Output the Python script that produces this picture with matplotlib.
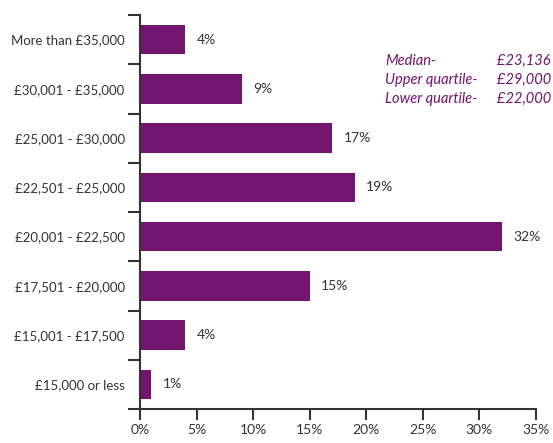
import matplotlib.pyplot as plt
from matplotlib.ticker import FixedLocator

# Salary bands (bottom to top) and share of respondents in each
bands = ['£15,000 or less', '£15,001 - £17,500', '£17,501 - £20,000',
         '£20,001 - £22,500', '£22,501 - £25,000', '£25,001 - £30,000',
         '£30,001 - £35,000', 'More than £35,000']
shares = [1, 4, 15, 32, 19, 17, 9, 4]
x_ticks = [0, 5, 10, 15, 20, 25, 30, 35]
stats_names = ['Median-', 'Upper quartile-', 'Lower quartile-']
stats_values = ['£23,136', '£29,000', '£22,000']

purple = '#73146F'
grey = '#333333'
plt.rcParams['font.family'] = ['Lato', 'DejaVu Sans']

fig = plt.figure(figsize=(5.53, 4.43), dpi=100)
ax = fig.add_axes([140 / 553, 1 - 409 / 443, 396 / 553, 394 / 443])

ypos = list(range(len(bands)))
ax.barh(ypos, shares, height=0.6, color=purple, zorder=2)
for y, v in zip(ypos, shares):
    ax.annotate(f'{v}%', (v, y), xytext=(8, 0), textcoords='offset points',
                ha='left', va='center', fontsize=10, color=grey)

ax.set_xlim(0, 35)
ax.set_ylim(-0.5, len(bands) - 0.5)
ax.set_xticks(x_ticks)
ax.set_xticklabels([f'{t}%' for t in x_ticks], fontsize=10, color=grey)
ax.set_yticks(ypos)
ax.set_yticklabels(bands, fontsize=9.5, color=grey)
ax.yaxis.set_minor_locator(FixedLocator([i - 0.5 for i in range(len(bands) + 1)]))

ax.tick_params(axis='y', which='major', length=0, pad=11)
ax.tick_params(axis='y', which='minor', length=9, width=1.5, color=grey)
ax.tick_params(axis='x', length=8, width=1.5, color=grey, pad=3)

for side in ('top', 'right'):
    ax.spines[side].set_visible(False)
for side in ('left', 'bottom'):
    ax.spines[side].set_color(grey)
    ax.spines[side].set_linewidth(1.5)

# Summary statistics block
for i, (name, val) in enumerate(zip(stats_names, stats_values)):
    y = 1 - (61 + 19 * i) / 443
    fig.text(385 / 553, y, name, fontsize=10.5, style='italic', color=purple,
             va='center', ha='left')
    fig.text(497 / 553, y, val, fontsize=10.5, style='italic', color=purple,
             va='center', ha='left')

fig.savefig('out.png', dpi=100, facecolor='white')
